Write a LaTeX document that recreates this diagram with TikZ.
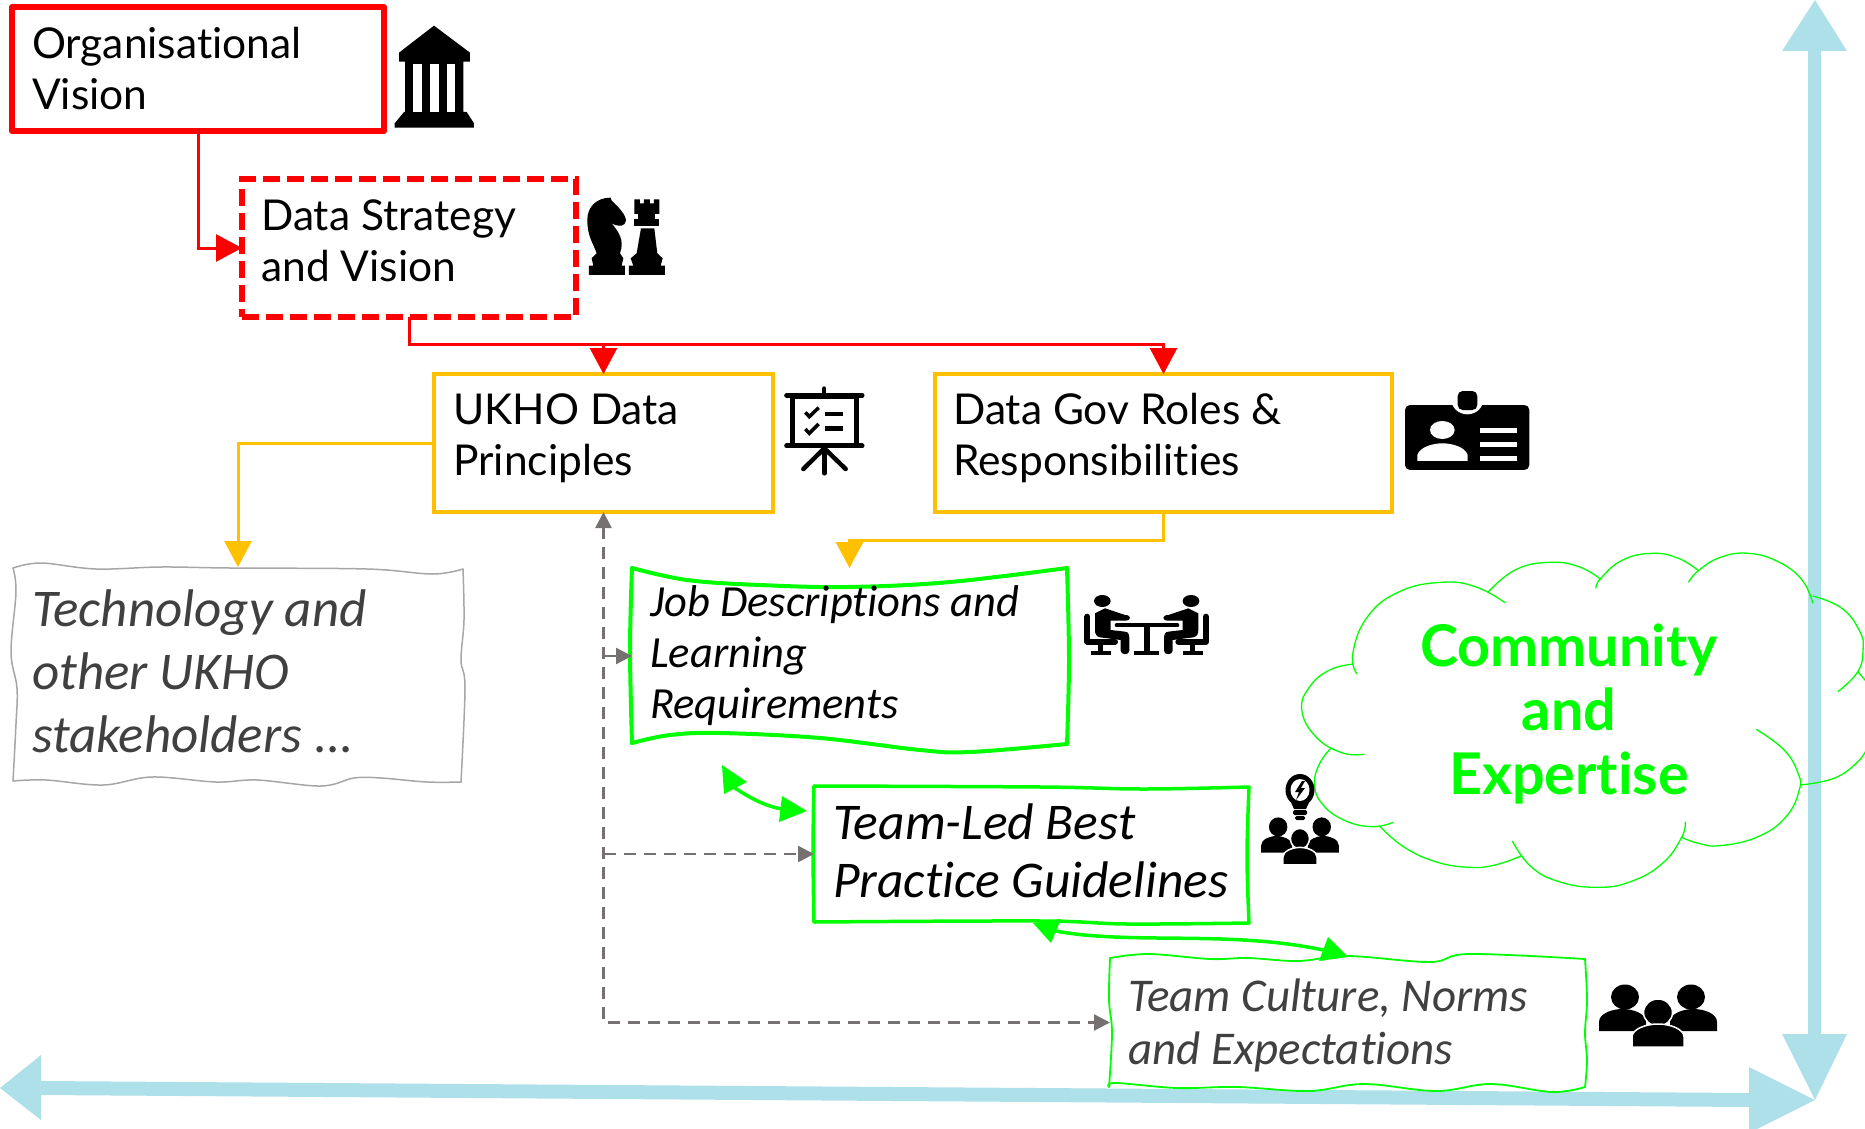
\documentclass[tikz,border=0pt]{standalone}
\usepackage{fontspec}
\usetikzlibrary{arrows.meta}
\setmainfont{Lato}[Ligatures=NoCommon]
\newfontfamily\hand{Carlito}[Ligatures=NoCommon]
\definecolor{rd}{HTML}{FF0000}
\definecolor{yl}{HTML}{FFC000}
\definecolor{gn}{HTML}{00FF00}
\definecolor{bl}{HTML}{AEE0EA}
\definecolor{gy}{HTML}{767171}
\definecolor{dk}{HTML}{404040}
\definecolor{wobgrey}{HTML}{A6A6A6}
\tikzset{
  boxanchor/.style={anchor=north west,inner sep=0pt,outer sep=0pt},
  redbox/.style={boxanchor,draw=rd,line width=6pt,line join=round},
  reddash/.style={boxanchor,draw=rd,line width=6pt,dash pattern=on 17pt off 7pt},
  ylbox/.style={boxanchor,draw=yl,line width=4pt},
  ghost/.style={boxanchor},
  lab/.style={anchor=west,inner sep=0pt,align=left,font=\fontsize{42.5}{51}\selectfont},
  handa/.style={anchor=west,inner sep=0pt,align=left,text=dk,font=\hand\itshape\fontsize{53}{63}\selectfont},
  handb/.style={anchor=west,inner sep=0pt,align=left,font=\hand\itshape\fontsize{51.5}{58}\selectfont},
  handc/.style={anchor=west,inner sep=0pt,align=left,font=\hand\itshape\fontsize{44.5}{51}\selectfont},
  handd/.style={anchor=west,inner sep=0pt,align=left,text=dk,font=\hand\itshape\fontsize{47}{53}\selectfont},
  bigtxt/.style={anchor=center,inner sep=0pt,align=center,text=gn,font=\bfseries\fontsize{57.5}{64}\selectfont},
  redline/.style={draw=rd,line width=3pt,-{Triangle[length=26pt,width=27pt,fill=rd]}},
  ylline/.style={draw=yl,line width=3pt,-{Triangle[length=26pt,width=27pt,fill=yl]}},
  gyplain/.style={draw=gy,line width=2.5pt,dash pattern=on 12pt off 8pt},
  gyline/.style={gyplain,-{Triangle[length=16pt,width=16pt,fill=gy]}},
  gyboth/.style={gyplain,{Triangle[length=16pt,width=16pt,fill=gy]}-{Triangle[length=16pt,width=16pt,fill=gy]}},
  gnline/.style={draw=gn,line width=3.5pt},
  wobt/.style={draw=wobgrey,line width=1.5pt,line cap=round},
  wobj/.style={draw=gn,line width=4pt,line cap=round},
  wobk/.style={draw=gn,line width=3.5pt,line cap=round},
  wobc/.style={draw=gn,line width=1.8pt,line cap=round},
  cloudline/.style={draw=gn,line width=1.3pt},
  iconline/.style={draw=black,line cap=round},
}
\newcommand{\threefolk}[4]{%
  \begin{scope}[shift={(#1,#2)},xscale=#3,yscale=#4]
    \fill[black] (26,13) ellipse [x radius=14,y radius=12.5];
    \fill[black] (92,13) ellipse [x radius=14,y radius=12.5];
    \fill[black] (0,47) -- (0,38) .. controls (0,29) and (14,25) .. (23.5,25) .. controls (33,25) and (47,29) .. (47,38) -- (47,47) -- cycle;
    \fill[black] (71,47) -- (71,38) .. controls (71,29) and (85,25) .. (94.5,25) .. controls (104,25) and (118,29) .. (118,38) -- (118,47) -- cycle;
    \filldraw[fill=black,draw=white,line width=1.5pt] (59,28.5) ellipse [x radius=14.5,y radius=13.5];
    \filldraw[fill=black,draw=white,line width=1.5pt] (33,63) -- (33,53) .. controls (33,45) and (47,40) .. (59,40) .. controls (71,40) and (85,45) .. (85,53) -- (85,63) -- cycle;
  \end{scope}}
\begin{document}
\begin{tikzpicture}[x=1pt,y=-1pt]
\useasboundingbox (0,0) rectangle (1865,1129);
\clip (0,0) rectangle (1865,1129);

% big blue axes
\fill[bl] (0,1088) -- (41,1055) -- (41,1081) -- (1749,1093) -- (1749,1067) -- (1815,1100) -- (1749,1133) -- (1749,1107) -- (41,1095) -- (41,1120) -- cycle;
\fill[bl] (1815,0) -- (1847,51) -- (1821,51) -- (1821,1034) -- (1847,1034) -- (1815,1100) -- (1782,1034) -- (1808,1034) -- (1808,51) -- (1782,51) -- cycle;

% boxes
\node[redbox,minimum width=372pt,minimum height=124pt] (org) at (12,7) {};
\node[reddash,minimum width=334pt,minimum height=138pt] (data) at (242,179) {};
\node[ylbox,minimum width=339pt,minimum height=138pt] (ukho) at (434,374) {};
\node[ylbox,minimum width=457pt,minimum height=138pt] (gov) at (935,374) {};
\node[ghost,minimum width=450pt,minimum height=217pt] (tech) at (13,567) {};
\node[ghost,minimum width=435pt,minimum height=176pt] (job) at (632,568) {};
\node[ghost,minimum width=435pt,minimum height=136pt] (lead) at (814,786) {};
\node[ghost,minimum width=476pt,minimum height=129pt] (cult) at (1110,958) {};

% wobbly outlines
\draw[wobt] plot[smooth,tension=.6] coordinates {(13,568)(41,563)(96,569)(161,567)(230,568)(367,569)(432,574)(463,569)};
\draw[wobt] plot[smooth,tension=.6] coordinates {(463,569)(464,620)(461,660)(465,688)(461,782)};
\draw[wobt] plot[smooth,tension=.6] coordinates {(461,782)(427,782)(381,778)(354,778)(321,786)(257,780)(216,782)(152,777)(103,785)(46,780)(13,781)};
\draw[wobt] plot[smooth,tension=.6] coordinates {(13,781)(16,724)(17,688)(11,652)(16,592)(13,568)};

\draw[wobj] plot[smooth,tension=.6] coordinates {(632,568)(687,580)(760,585)(848,587)(950,582)(1067,568)};
\draw[wobj] plot[smooth,tension=.6] coordinates {(1067,568)(1069,660)(1067,744)};
\draw[wobj] plot[smooth,tension=.6] coordinates {(1067,744)(970,752)(920,750)(820,738)(720,733)(670,735)(632,743)};
\draw[wobj] plot[smooth,tension=.6] coordinates {(632,743)(630,650)(632,568)};

\draw[wobk] plot[smooth,tension=.6] coordinates {(814,786)(1041,787)(1144,789)(1249,787)};
\draw[wobk] plot[smooth,tension=.6] coordinates {(1249,787)(1247,856)(1249,923)};
\draw[wobk] plot[smooth,tension=.6] coordinates {(1249,923)(1127,924)(1041,921)(814,922)};
\draw[wobk] plot[smooth,tension=.6] coordinates {(814,922)(813,850)(814,786)};

\draw[wobc] plot[smooth,tension=.6] coordinates {(1110,958)(1149,954)(1210,959)(1248,958)(1298,961)(1348,956)(1430,962)(1469,954)(1585,959)};
\draw[wobc] plot[smooth,tension=.6] coordinates {(1585,959)(1587,1000)(1585,1033)(1587,1060)(1585,1087)};
\draw[wobc] plot[smooth,tension=.6] coordinates {(1585,1087)(1552,1092)(1491,1084)(1436,1091)(1364,1084)(1309,1091)(1237,1087)(1177,1088)(1116,1083)(1109,1087)};
\draw[wobc] plot[smooth,tension=.6] coordinates {(1109,1087)(1112,1033)(1109,1000)(1110,958)};

% cloud
\begin{scope}[shift={(1240,520)},xscale=.3986,yscale=.3333]
\draw[cloudline] plot[smooth,tension=.75] coordinates {(293,462)(283,400)(320,290)(400,215)(505,187)(590,200)(665,248)};
\draw[cloudline] plot[smooth,tension=.75] coordinates {(622,217)(690,150)(775,127)(850,140)(905,178)};
\draw[cloudline] plot[smooth,tension=.75] coordinates {(893,205)(905,175)(960,120)(1035,100)(1100,115)(1150,152)};
\draw[cloudline] plot[smooth,tension=.75] coordinates {(1125,187)(1150,152)(1205,112)(1275,100)(1350,125)(1410,180)(1437,250)};
\draw[cloudline] plot[smooth,tension=.75] coordinates {(1437,228)(1510,265)(1555,335)(1563,390)(1550,455)(1500,515)};
\draw[cloudline] (1550,455) -- (1575,490);
\draw[cloudline] plot[smooth,tension=.75] coordinates {(1405,795)(1490,775)(1550,725)(1575,680)};
\draw[cloudline] plot[smooth,tension=.75] coordinates {(1295,628)(1365,690)(1400,760)(1403,810)(1370,890)(1300,950)(1205,977)(1150,970)(1108,952)};
\draw[cloudline] plot[smooth,tension=.75] coordinates {(1117,905)(1108,952)(1060,1030)(980,1085)(895,1102)(800,1085)(730,1040)(683,963)};
\draw[cloudline] plot[smooth,tension=.75] coordinates {(705,1008)(640,1035)(575,1042)(490,1025)(410,980)(350,918)};
\draw[cloudline] plot[smooth,tension=.75] coordinates {(385,907)(330,920)(260,900)(205,850)(187,790)(200,730)(228,685)};
\draw[cloudline] plot[smooth,tension=.75] coordinates {(312,703)(255,698)(190,650)(155,570)(175,500)(225,450)(285,432)};
\end{scope}

% texts
\node[lab] (orgt) at (32,69) {Organisational\\Vision};
\node[lab] (datat) at (261,241) {Data Strategy\\and Vision};
\node[lab] (ukhot) at (453,438) {UKHO Data\\Principles};
\node[lab] (govt) at (953,438) {Data Gov Roles \&\\Responsibilities};
\node[handa] (techt) at (32,671) {Technology and\\other UKHO\\stakeholders ...};
\node[handc] (jobt) at (650,656) {Job Descriptions and\\Learning\\Requirements};
\node[handb] (leadt) at (833,851) {Team-Led Best\\Practice Guidelines};
\node[handd] (cultt) at (1128,1025) {Team Culture, Norms\\and Expectations};
\node[bigtxt] (cloudt) at (1569,714) {Community\\and\\Expertise};

% connectors
\draw[redline] (org.south) |- (data.west);
\draw[redline] (data.south) -- ++(0,27) -| (ukho.north);
\draw[redline] (data.south) -- ++(0,27) -| (gov.north);
\draw[ylline] (ukho.west) -| (tech.north);
\draw[ylline] (gov.south) -- ++(0,28) -| (job.north);
\draw[gyboth] (ukho.south) |- (cult.west);
\draw[gyline] (ukho.south |- lead.west) -- (lead.west);
\draw[gyline] (ukho.south |- job.west) -- (job.west);

% green double arrows
\coordinate (ga) at (735,788);
\coordinate (gb) at (782,809);
\coordinate (gc) at (1056,931);
\coordinate (gd) at (1323,950);
\draw[gnline] (ga) .. controls (750,798) and (765,806) .. (gb);
\fill[gn] (722,765) -- (747,782) -- (724,794) -- cycle;
\fill[gn] (807,811) -- (782,796) -- (779,822) -- cycle;
\draw[gnline] (gc) .. controls (1130,945) and (1230,930) .. (gd);
\fill[gn] (1033,923) -- (1061,919) -- (1051,943) -- cycle;
\fill[gn] (1328,937) -- (1348,957) -- (1319,961) -- cycle;

% temple icon
\begin{scope}[shift={(380,10)},scale=.3333]
\fill[black] (162,47) -- (270,128) -- (270,155) -- (250,155) -- (250,306) -- (260,306) -- (282,340) -- (282,353) -- (44,353) -- (44,340) -- (72,306) -- (75,306) -- (75,155) -- (57,155) -- (57,128) -- cycle;
\fill[white] (100,162) rectangle (126,306);
\fill[white] (150,162) rectangle (176,306);
\fill[white] (200,162) rectangle (226,306);
% knight
\fill[black] (627,795) -- (627,767) -- (640,767) -- (635,745) -- (650,730) .. controls (640,700) and (622,680) .. (622,630) .. controls (622,590) and (650,563) .. (692,563) -- (695,572) .. controls (715,590) and (738,615) .. (738,632) .. controls (735,650) and (718,652) .. (695,640) .. controls (715,665) and (735,690) .. (720,730) -- (730,745) -- (725,767) -- (735,767) -- (735,795) -- cycle;
% rook
\fill[black] (747,795) -- (747,767) -- (760,767) -- (752,745) -- (770,730) -- (783,655) -- (823,655) -- (832,730) -- (848,745) -- (842,767) -- (855,767) -- (855,795) -- cycle;
\fill[black] (763,628) rectangle (838,647);
\fill[black] (775,610) rectangle (825,628);
\fill[black] (763,568) -- (780,568) -- (780,580) -- (792,580) -- (792,568) -- (810,568) -- (810,580) -- (822,580) -- (822,568) -- (838,568) -- (838,612) -- (763,612) -- cycle;
\end{scope}

% presentation board
\begin{scope}[shift={(770,370)},scale=.3333]
\draw[iconline,line width=5pt] (50,76) -- (276,76);
\draw[iconline,line width=5pt] (50,228) -- (276,228);
\draw[iconline,line width=4pt] (163,55) -- (163,72);
\draw[black,line width=5pt] (67,78) rectangle (258,226);
\draw[iconline,line width=4.5pt] (163,232) -- (163,310);
\draw[iconline,line width=4.5pt] (163,235) -- (100,297);
\draw[iconline,line width=4.5pt] (163,235) -- (227,297);
\draw[black,line width=3.5pt] (106,127) -- (118,140) -- (146,113);
\draw[black,line width=3.5pt] (106,177) -- (118,190) -- (146,162);
\fill[black] (165,125) rectangle (220,137);
\fill[black] (165,168) rectangle (220,182);
\end{scope}

% id card
\begin{scope}[shift={(1390,380)},scale=.3333]
\fill[black,rounded corners=5pt] (45,75) rectangle (418,270);
\fill[white] (232,58) ellipse [x radius=48,y radius=45];
\fill[black,rounded corners=5pt] (203,33) rectangle (262,90);
\fill[white] (157,150) ellipse [x radius=37,y radius=27];
\fill[white] (82,243) -- (82,225) .. controls (90,200) and (130,190) .. (157,190) .. controls (185,190) and (225,200) .. (233,225) -- (233,243) -- cycle;
\fill[white] (270,145) rectangle (382,160);
\fill[white] (270,186) rectangle (382,200);
\fill[white] (270,228) rectangle (382,242);
\end{scope}

% meeting
\begin{scope}[shift={(1070,580)},scale=.3333]
\draw[iconline,line width=4pt] (140,136) -- (322,136);
\draw[iconline,line width=6pt,line cap=butt] (230,136) -- (230,220);
\draw[black,line width=4pt] (192,220) -- (268,220);
\foreach \m/\o in {1/0,-1/460}{
\begin{scope}[shift={(\o,0)},xscale=\m]
\fill[black] (97,63) ellipse [x radius=25,y radius=18];
\fill[black] (75,100) -- (105,85) -- (165,105) .. controls (185,105) and (185,122) .. (165,122) -- (122,122) -- (122,150) -- (165,155) .. controls (175,155) and (178,165) .. (178,175) -- (178,212) .. controls (178,226) and (152,226) .. (152,212) -- (152,180) -- (90,172) .. controls (78,170) and (75,160) .. (75,150) -- cycle;
\draw[iconline,line width=6pt,line join=round] (52,110) -- (52,185) -- (135,185);
\draw[black,line width=5pt] (92,185) -- (92,220);
\draw[black,line width=4pt] (62,220) -- (122,220);
\end{scope}}
\end{scope}

% bulb
\fill[black] (1300,790) ellipse [x radius=14.5,y radius=16];
\fill[black] (1289,798) -- (1311,798) -- (1306,809) -- (1294,809) -- cycle;
\fill[white] (1300,790) ellipse [x radius=9.5,y radius=11];
\fill[black] (1302,781) -- (1295,792) -- (1299,792) -- (1296,800) -- (1305,788) -- (1301,788) -- (1305,781) -- cycle;
\fill[black,rounded corners=1.5pt] (1293,810) rectangle (1307,815);
\fill[black,rounded corners=1.5pt] (1295,816) rectangle (1305,820);
\threefolk{1261}{817}{.66}{.76}
\threefolk{1599}{984}{1}{1}
\end{tikzpicture}
\end{document}
